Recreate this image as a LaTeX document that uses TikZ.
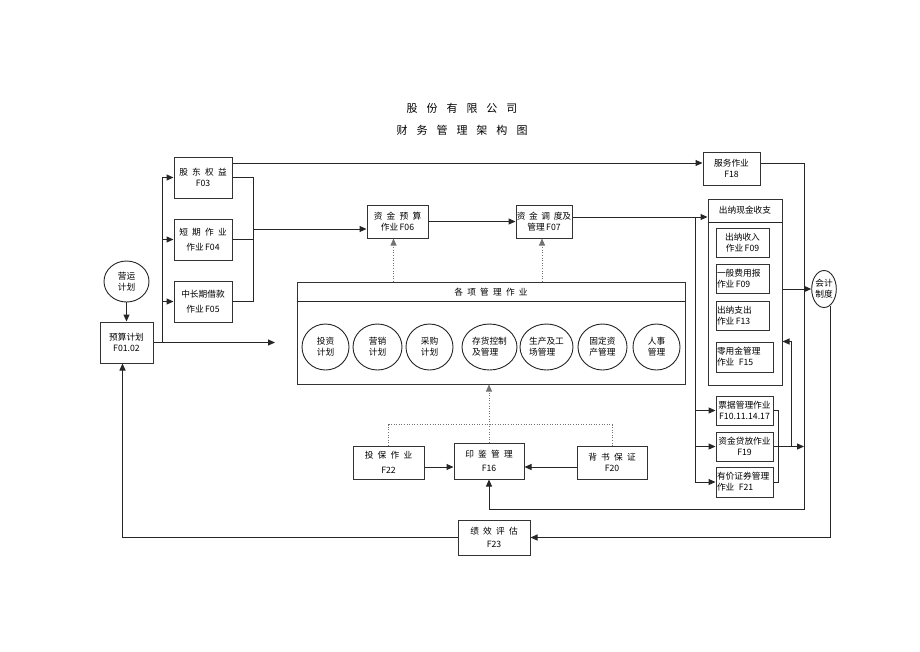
\documentclass[tikz,border=0pt]{standalone}
\usepackage{fontspec}
\setmainfont{Noto Sans CJK SC}
\usetikzlibrary{arrows.meta,shapes.geometric,calc}
\begin{document}
\begin{tikzpicture}[x=1pt,y=-1pt,
  every node/.style={font=\fontsize{8.7}{11}\selectfont, execute at begin node={\spaceskip=4.2pt\relax}},
  ttl/.style={font=\fontsize{11}{14}\selectfont, execute at begin node={\spaceskip=9pt\relax}},
  box/.style={draw=black!80, line width=1pt, align=center, inner sep=1pt},
  lbox/.style={box, align=left},
  ell/.style={draw=black!85, line width=0.9pt, ellipse, align=center, inner sep=0pt},
  ln/.style={draw=black!85, line width=1pt},
  arr/.style={ln, -{Triangle[length=7pt,width=6pt]}},
  dotln/.style={draw=black!55, line width=0.6pt, dotted},
  dotarr/.style={dotln, -{Triangle[length=7pt,width=6pt]}},
]
\fill[white] (0,0) rectangle (920,651);
\path[use as bounding box] (0,0) rectangle (920,651);

% titles
\node[ttl] (t1) at (462,108) {股 份 有 限 公 司};
\node[ttl] (t2) at (462,130) {财 务 管 理 架 构 图};

% left column
\node[box, minimum width=58, minimum height=41] (f03) at (203,177.5) {股 东 权 益\\F03};
\node[box, minimum width=58, minimum height=41] (f04) at (203,239.5) {短 期 作 业\\[4pt]作业\,F04};
\node[box, minimum width=58, minimum height=41] (f05) at (203,301.5) {中长期借款\\[4pt]作业\,F05};
\node[ell, minimum width=45, minimum height=41] (yy) at (126.5,281.5) {营运\\计划};
\node[box, minimum width=53, minimum height=41] (ys) at (126.5,342.5) {预算计划\\F01.02};

% top middle
\node[box, minimum width=61, minimum height=33] (f06) at (397.5,221.5) {资 金 预 算\\作业\,F06};
\node[box, minimum width=56, minimum height=33, inner sep=0pt, execute at begin node={\spaceskip=3.6pt\relax}] (f07) at (544,221.5) {资 金 调 度及\\管理\,F07};

% right column
\node[box, minimum width=57, minimum height=33] (f18) at (731.5,168.5) {服务作业\\F18};
\node[box, minimum width=74, minimum height=186] (cn) at (745,292) {};
\draw[ln] (cn.west |- 0,222) -- (cn.east |- 0,222);
\node (cnh) at (745,210) {出纳现金收支};
\node[box, minimum width=53, minimum height=29] (c1) at (742.5,242.5) {出纳收入\\作业\,F09};
\node[lbox, text width=51, minimum height=29] (c2) at (742.5,278.5) {一般费用报\\作业\,F09};
\node[lbox, text width=51, minimum height=29] (c3) at (742.5,315.5) {出纳支出\\作业\,F13};
\node[lbox, text width=55, minimum height=30] (c4) at (744.5,357) {零用金管理\\作业\enspace F15};
\node[ell, minimum width=24, minimum height=37] (kj) at (824,289) {会计\\制度};
\node[box, minimum width=57, minimum height=29] (pj) at (744.5,410.5) {票据管理作业\\F10.11.14.17};
\node[box, minimum width=57, minimum height=29] (zd) at (744.5,446.5) {资金贷放作业\\F19};
\node[lbox, text width=55, minimum height=30] (yj) at (744.5,482) {有价证券管理\\作业\enspace F21};

% big middle box
\node[box, minimum width=388, minimum height=102] (gx) at (491,333) {};
\draw[ln] (gx.west |- 0,301) -- (gx.east |- 0,301);
\node (gxh) at (491,292) {各 项 管 理 作 业};
\node[ell, minimum width=47, minimum height=46] (e1) at (325.5,347) {投资\\计划};
\node[ell, minimum width=49, minimum height=46] (e2) at (377.5,347) {营销\\计划};
\node[ell, minimum width=47, minimum height=46] (e3) at (429.5,347) {采购\\计划};
\node[ell, minimum width=55, minimum height=46, align=left] (e4) at (489.5,347) {存货控制\\及管理};
\node[ell, minimum width=53, minimum height=46, align=left] (e5) at (546.5,347) {生产及工\\场管理};
\node[ell, minimum width=49, minimum height=46, align=left] (e6) at (602.5,347) {固定资\\产管理};
\node[ell, minimum width=47, minimum height=46] (e7) at (656.5,347) {人事\\管理};

% bottom
\node[box, minimum width=71, minimum height=33] (f22) at (388.5,462.5) {投 保 作 业\\[4pt]F22};
\node[box, minimum width=70, minimum height=36] (f16) at (489,461) {印 鉴 管 理\\[3pt]F16};
\node[box, minimum width=70, minimum height=33] (f20) at (612,462.5) {背 书 保 证\\F20};
\node[box, minimum width=72, minimum height=35] (f23) at (494,537.5) {绩 效 评 估\\[2pt]F23};

% connectors left
\draw[arr] (yy) -- (ys);
\coordinate (bus) at (162,342.5);
\coordinate (a275) at (275,342.5);
\draw[arr] (ys.east) -- (a275);
\draw[arr] (bus) |- (f03.west);
\draw[arr] (bus) |- (f04.west);
\draw[arr] (bus) |- (f05.west);
\coordinate (j1) at (253,229);
\draw[ln] (f03.east) -| (j1);
\draw[ln] (f05.east) -| (j1);
\draw[ln] (f04.east) -- (f04.east -| j1);
\draw[arr] (j1) -- (j1 -| f06.west);

% top line to F18 and return to F16
\coordinate (t18) at (f18.west |- 0,163);
\draw[arr] (f03.east |- t18) -- (t18);
\coordinate (r1) at (804,163);
\draw[arr] (f18.east |- t18) -- (r1) -- (r1 |- 0,509) -| (f16.south);

% F06 -> F07 -> cashier
\draw[arr] (f06) -- (f07);
\coordinate (lb) at (695,217);
\draw[arr] (f07.east |- lb) -- (cn.west |- lb);
\draw[arr] (lb) |- (pj.west);
\draw[arr] (lb) |- (zd.west);
\draw[arr] (lb) |- (yj.west);
\draw[ln] (pj.east) -- ++(5,0) |- (yj.east);
\draw[arr] (zd.east) -- (zd.east -| r1);
\coordinate (b1) at (791,446.5);
\draw[arr] (b1) |- (cn.east |- c4.north);
\draw[arr] (cn.east |- kj.west) -- (kj.west);
\draw[arr] (kj.-70) -- (kj.-70 |- f23.east) -- (f23.east);
\coordinate (ysb) at ([xshift=-4pt]ys.south);
\draw[arr] (f23.west) -| (ysb);

% dotted
\coordinate (d6) at ([xshift=-4pt]f06.south);
\coordinate (d7) at ([xshift=-2pt]f07.south);
\draw[dotarr] (d6 |- gx.north) -- (d6);
\draw[dotarr] (d7 |- gx.north) -- (d7);
\draw[dotarr] (f16.north) -- (f16.north |- gx.south);
\draw[dotln] (f22.north) -- ++(0,-21) -| (f20.north);

% bottom arrows
\draw[arr] (f22.east |- 0,467) -- (f16.west |- 0,467);
\draw[arr] (f20.west |- 0,467) -- (f16.east |- 0,467);
\end{tikzpicture}
\end{document}
